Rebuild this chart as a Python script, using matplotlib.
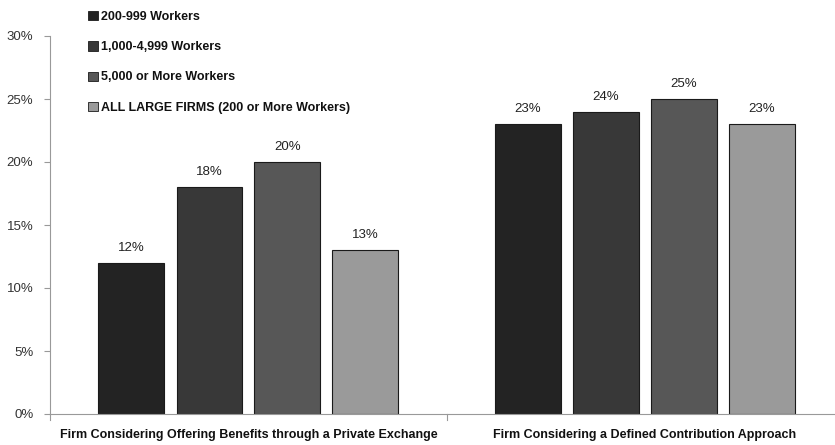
import matplotlib
matplotlib.use("Agg")
import matplotlib.pyplot as plt
import numpy as np
from matplotlib.patches import Patch

categories = ["Firm Considering Offering Benefits through a Private Exchange",
              "Firm Considering a Defined Contribution Approach"]
series = ["200-999 Workers", "1,000-4,999 Workers", "5,000 or More Workers",
          "ALL LARGE FIRMS (200 or More Workers)"]
values = [[12, 23], [18, 24], [20, 25], [13, 23]]
colors = ["#232323", "#383838", "#575757", "#9a9a9a"]
yticks = [0, 5, 10, 15, 20, 25, 30]

plt.rcParams['font.family'] = ['Liberation Sans', 'DejaVu Sans']
fig = plt.figure(figsize=(8.35, 4.45), dpi=100)
ax = fig.add_axes([50/835, 31/445, 1 - 50/835, (414-36)/445])

x = np.arange(len(categories))
offsets = [-0.295, -0.098, 0.098, 0.295]
width = 0.166
for i, s in enumerate(series):
    bars = ax.bar(x + offsets[i], values[i], width, color=colors[i],
                  edgecolor="#1a1a1a", linewidth=0.8, label=s)
    for b, v in zip(bars, values[i]):
        ax.text(b.get_x() + b.get_width()/2, v + 0.7, f"{v}%", ha="center",
                va="bottom", fontsize=9.5, color="#222222")

ax.set_xlim(-0.5, 1.479)
ax.set_ylim(0, 30)
ax.set_yticks(yticks)
ax.set_yticklabels([f"{t}%" for t in yticks], fontsize=9.5, color="#333333")
ax.set_xticks(x)
ax.set_xticklabels(categories, fontsize=9, fontweight="bold", color="#111111")
ax.tick_params(axis="x", length=0, pad=11)
ax.tick_params(axis="y", length=4, color="#999999", pad=8)
for xb in [-0.5, 0.5]:
    ax.plot([xb, xb], [0, -0.5], color="#999999", lw=0.8, clip_on=False)
for sp in ["top", "right"]:
    ax.spines[sp].set_visible(False)
for sp in ["left", "bottom"]:
    ax.spines[sp].set_color("#999999")
    ax.spines[sp].set_linewidth(0.8)

handles = [Patch(facecolor=c, edgecolor="#1a1a1a", linewidth=0.6) for c in colors]
leg = fig.legend(handles, series, loc="upper left", bbox_to_anchor=(77/835, 1),
                 frameon=False, prop={"weight": "bold", "size": 9},
                 handlelength=0.75, handleheight=0.75, handletextpad=0.3,
                 labelspacing=1.45)
for t in leg.get_texts():
    t.set_color("#111111")

fig.savefig("out.png", dpi=100)
